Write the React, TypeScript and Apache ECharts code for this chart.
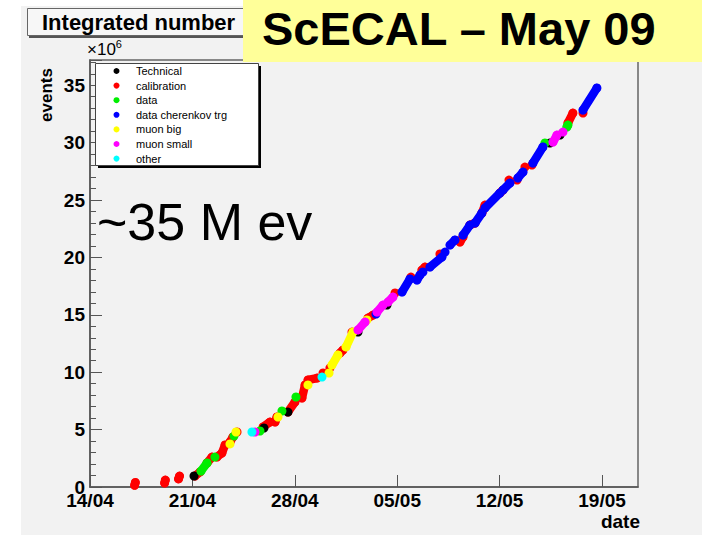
import React, { useEffect, useRef } from "react";
import * as echarts from "echarts";

// x: days since 14/04 ; y: integrated events (x10^6)
const xTickLabels = ["14/04", "21/04", "28/04", "05/05", "12/05", "19/05"];
const seriesNames = ["Technical", "calibration", "data", "data cherenkov trg", "muon big", "muon small", "other"];
const seriesColors = ["#000000", "#ff0000", "#00ee00", "#0000ff", "#ffff00", "#ff00ff", "#00ffff"];

// each inner array is one contiguous run of points
const technical = [
  [[7.11, 0.96]], [[11.89, 5.14]], [[13.53, 6.53]], [[18.32, 13.5]], [[20.3, 15.85]], [[31.44, 29.97]], [[32.13, 30.66]],
];
const calibration = [
  [[3.05, 0.15], [3.1, 0.4]],
  [[5.1, 0.35], [5.15, 0.6]],
  [[6.05, 0.7], [6.12, 0.95]],
  [[7.18, 0.96], [7.52, 1.31]],
  [[8.0, 2.09], [8.34, 2.61]],
  [[8.68, 2.61], [9.02, 2.96], [9.23, 3.66]],
  [[9.57, 3.92], [9.77, 4.36]],
  [[10.05, 4.79]],
  [[11.83, 5.23], [12.3, 5.66]],
  [[12.65, 5.66], [12.78, 6.1]],
  [[13.53, 6.53], [14.01, 7.4]],
  [[14.49, 7.75], [14.7, 8.89]],
  [[14.9, 9.32], [15.52, 9.49]],
  [[15.93, 9.93]],
  [[16.4, 10.37]],
  [[17.09, 11.67], [17.29, 11.93]],
  [[17.91, 13.5]],
  [[19.0, 14.72], [19.34, 14.98]],
  [[20.85, 16.9]],
  [[21.94, 18.29]],
  [[22.69, 18.9], [22.9, 19.16]],
  [[23.92, 20.3]],
  [[25.29, 21.34], [25.5, 21.78]],
  [[25.97, 22.82], [26.32, 23.0]],
  [[26.79, 23.87], [27.0, 24.56]],
  [[28.02, 25.61], [28.23, 25.87]],
  [[28.64, 26.74]],
  [[29.19, 26.74]],
  [[29.73, 27.87]],
  [[30.21, 28.05]],
  [[32.67, 31.71], [33.01, 32.58]],
  [[33.7, 32.58]],
];
const dataRuns = [
  [[7.59, 1.39], [8.0, 2.09]], [[8.54, 2.61]], [[9.84, 4.44]], [[11.62, 4.88]], [[13.12, 6.62]], [[14.08, 7.84]],
  [[31.1, 29.97]], [[32.6, 31.36], [32.67, 31.53]],
];
const cherenkov = [
  [[19.55, 15.07]],
  [[21.33, 16.99], [21.87, 18.12]],
  [[22.35, 18.03], [22.56, 18.47]],
  [[22.76, 18.73]],
  [[23.24, 19.16], [24.06, 20.03]],
  [[24.27, 20.47]],
  [[24.61, 21.08], [24.95, 21.52]],
  [[25.5, 21.95], [25.97, 22.82]],
  [[26.32, 23.0], [26.79, 23.87]],
  [[27.0, 24.3], [28.02, 25.61]],
  [[28.23, 25.87], [28.71, 26.48]],
  [[29.25, 26.92], [29.6, 27.44]],
  [[30.28, 28.22], [30.96, 29.62]],
  [[33.7, 32.84], [34.65, 34.76]],
];
const muonBig = [
  [[9.57, 3.75]], [[9.98, 4.79]], [[12.85, 6.1]], [[14.9, 8.89]], [[16.34, 9.93]],
  [[16.54, 10.63], [16.95, 11.5]], [[17.5, 12.2], [17.98, 13.5]], [[18.93, 14.55]],
];
const muonSmall = [
  [[11.28, 4.79]], [[18.32, 13.68], [18.8, 14.37]], [[19.62, 15.24], [20.03, 15.85]],
  [[20.37, 16.11], [20.71, 16.55]], [[31.65, 30.05], [31.92, 30.66]], [[32.33, 30.92]],
];
const other = [[[11.07, 4.79]], [[15.86, 9.58]]];

const runsByCategory = [technical, calibration, dataRuns, cherenkov, muonBig, muonSmall, other];
const drawOrder = [1, 0, 2, 3, 4, 5, 6];

const FONT = "'Liberation Sans', Arial, Helvetica, sans-serif";

export default function App() {
  const ref = useRef<HTMLDivElement>(null);
  useEffect(() => {
    if (!ref.current) return;
    const chart = echarts.init(ref.current, undefined, { renderer: "svg" });

    const series: any[] = [];
    drawOrder.forEach((ci, k) => {
      runsByCategory[ci].forEach((run) => {
        series.push({
          type: "line",
          name: seriesNames[ci],
          data: run,
          z: 2 + k * 0.01,
          symbol: "circle",
          symbolSize: 9,
          showSymbol: true,
          showAllSymbol: true,
          itemStyle: { color: seriesColors[ci], borderWidth: 0 },
          lineStyle: { color: seriesColors[ci], width: 8.5, cap: "round", join: "round" },
          silent: true,
        });
      });
    });

    const legendElems: any[] = [
      { type: "rect", z: 50, shape: { x: 98, y: 66, width: 163, height: 102 }, style: { fill: "#000" }, silent: true },
      { type: "rect", z: 51, shape: { x: 95.5, y: 63.5, width: 163, height: 102 }, style: { fill: "#fff", stroke: "#444", lineWidth: 1 }, silent: true },
    ];
    seriesNames.forEach((n, i) => {
      const cy = 71 + i * 14.6;
      legendElems.push({ type: "circle", z: 52, shape: { cx: 116.5, cy, r: 3 }, style: { fill: seriesColors[i] }, silent: true });
      legendElems.push({
        type: "text", z: 52, x: 136, y: cy,
        style: { text: n, fill: "#000", font: `11px ${FONT}`, textVerticalAlign: "middle", textAlign: "left" },
        silent: true,
      });
    });

    chart.setOption({
      animation: false,
      grid: { left: 90, top: 60, right: 64, bottom: 48, show: true, borderColor: "#666", borderWidth: 1.5, backgroundColor: "transparent" },
      xAxis: {
        type: "value", min: 0, max: 37.46, interval: 7,
        axisLine: { show: true, lineStyle: { color: "#555", width: 1.5 } },
        axisTick: { show: true, inside: true, length: 12, lineStyle: { color: "#555" } },
        splitLine: { show: false },
        axisLabel: {
          show: true, margin: 4, color: "#000", fontFamily: FONT, fontWeight: "bold", fontSize: 19,
          showMaxLabel: false,
          formatter: (v: number) => {
            const i = Math.round(v / 7);
            return Math.abs(v - i * 7) < 1e-6 && xTickLabels[i] ? xTickLabels[i] : "";
          },
        },
      },
      yAxis: {
        type: "value", min: 0, max: 37.2, interval: 5,
        axisLine: { show: true, lineStyle: { color: "#555", width: 1.5 } },
        axisTick: { show: true, inside: true, length: 12, lineStyle: { color: "#555" } },
        minorTick: { show: true, splitNumber: 5, length: 6, lineStyle: { color: "#555" } },
        splitLine: { show: false },
        axisLabel: { show: true, margin: 5, color: "#000", fontFamily: FONT, fontWeight: "bold", fontSize: 19, showMaxLabel: false },
      },
      series,
      graphic: [
        { type: "rect", z: -100, shape: { x: 21, y: 6, width: 681, height: 529 }, style: { fill: "#f2f2f2" }, silent: true },
        // title box
        { type: "rect", z: 60, shape: { x: 29, y: 10, width: 230, height: 28 }, style: { fill: "#555" }, silent: true },
        { type: "rect", z: 61, shape: { x: 27.5, y: 8.5, width: 230, height: 27 }, style: { fill: "#f7f7f7", stroke: "#666", lineWidth: 1 }, silent: true },
        {
          type: "text", z: 62, x: 42, y: 22,
          style: { text: "Integrated number", fill: "#000", font: `bold 22px ${FONT}`, textVerticalAlign: "middle" },
          silent: true,
        },
        // yellow banner
        { type: "rect", z: 70, shape: { x: 243, y: 0, width: 459, height: 62 }, style: { fill: "#ffff99" }, silent: true },
        {
          type: "text", z: 71, x: 262, y: 28,
          style: { text: "ScECAL \u2013 May 09", fill: "#000", font: `bold 47px ${FONT}`, textVerticalAlign: "middle" },
          silent: true,
        },
        // axis titles
        {
          type: "text", z: 40, x: 46, y: 95, rotation: Math.PI / 2,
          style: { text: "events", fill: "#000", font: `bold 17px ${FONT}`, textAlign: "center", textVerticalAlign: "middle" },
          silent: true,
        },
        {
          type: "text", z: 40, x: 640, y: 521,
          style: { text: "date", fill: "#000", font: `bold 19px ${FONT}`, textAlign: "right", textVerticalAlign: "middle" },
          silent: true,
        },
        {
          type: "text", z: 40, x: 87, y: 49,
          style: {
            text: "\u00d710{s|6}", fill: "#000", font: `17px ${FONT}`, textVerticalAlign: "middle",
            rich: { s: { fontSize: 11, fontFamily: FONT, verticalAlign: "top", padding: [0, 0, 10, 0] } },
          },
          silent: true,
        },
        // annotation
        {
          type: "text", z: 40, x: 97, y: 222,
          style: { text: "~35 M ev", fill: "#000", font: `52px ${FONT}`, textVerticalAlign: "middle" },
          silent: true,
        },
        ...legendElems,
      ],
    });
    return () => chart.dispose();
  }, []);
  return (
    <div
      ref={ref}
      style={{ position: "fixed", left: 0, top: 0, width: 702, height: 535, background: "#ffffff" }}
    />
  );
}
